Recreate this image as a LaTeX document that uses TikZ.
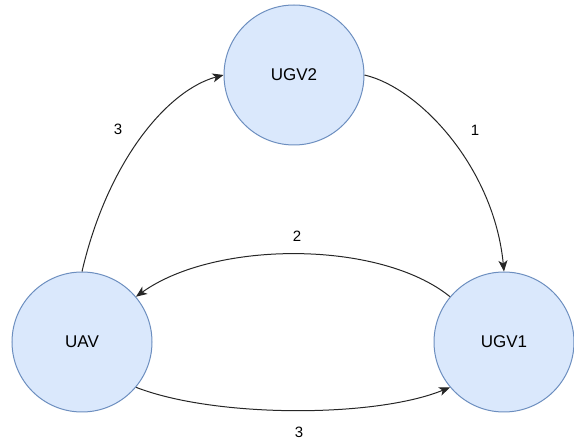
\documentclass[tikz,border=0pt]{standalone}
\usepackage{fontspec}
\setmainfont{Liberation Sans}
\usetikzlibrary{arrows.meta}
\definecolor{nodefill}{HTML}{DAE8FC}
\definecolor{nodeline}{HTML}{6C8EBF}
\tikzset{
  agent/.style={circle, draw=nodeline, fill=nodefill, line width=1pt,
    minimum size=140pt, inner sep=0pt, font=\fontsize{17}{20}\selectfont},
  link/.style={draw=black!85, line width=1pt,
    -{Stealth[length=11pt, width=9pt, inset=3pt]}},
  weight/.style={font=\fontsize{15}{18}\selectfont, inner sep=0pt}
}
\begin{document}
\begin{tikzpicture}[x=1pt, y=-1pt]
  \useasboundingbox (0,0) rectangle (574,446);
  \node[agent] (ugv2) at (294,75) {UGV2};
  \node[agent] (uav) at (82,342) {UAV};
  \node[agent] (ugv1) at (504,342) {UGV1};

  \draw[link] (uav.90) .. controls (108,160) and (168,90) .. (ugv2.180);
  \draw[link] (ugv2.0) .. controls (420,88) and (494,168) .. (ugv1.90);
  \draw[link] (ugv1.140) .. controls (380,240) and (215,240) .. (uav.40);
  \draw[link] (uav.-40) .. controls (215,418) and (375,418) .. (ugv1.-140);

  \node[weight] (w1) at (118,129) {3};
  \node[weight] (w2) at (475,130) {1};
  \node[weight] (w3) at (297,236) {2};
  \node[weight] (w4) at (299,432) {3};
\end{tikzpicture}
\end{document}
